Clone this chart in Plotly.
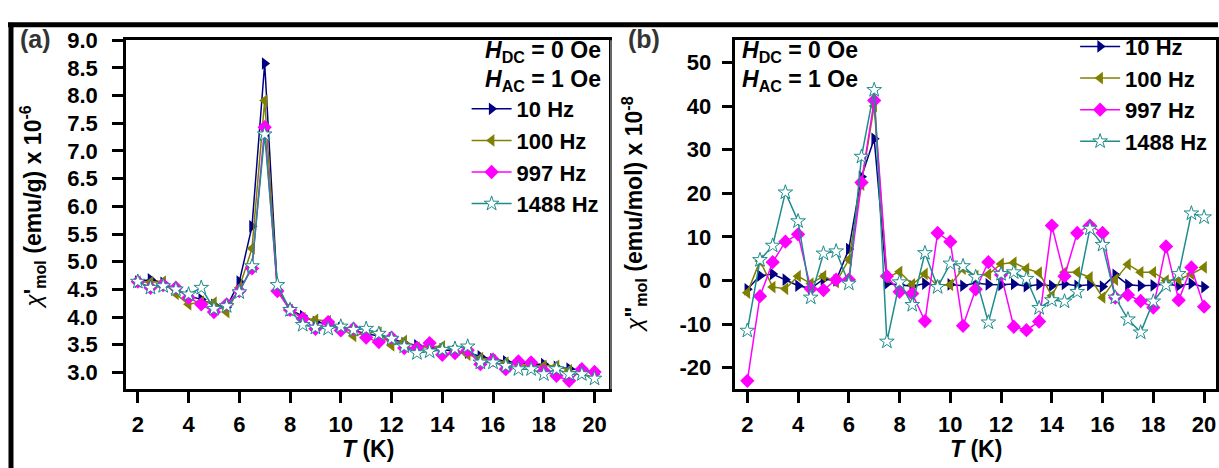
import plotly.graph_objects as go

W, H = 1219, 468

T = [2, 2.5, 3, 3.5, 4, 4.5, 5, 5.5, 6, 6.5, 7, 7.5, 8, 8.5, 9, 9.5, 10, 10.5, 11, 11.5,
     12, 12.5, 13, 13.5, 14, 14.5, 15, 15.5, 16, 16.5, 17, 17.5, 18, 18.5, 19, 19.5, 20]

freq_labels = ["10 Hz", "100 Hz", "997 Hz", "1488 Hz"]

# panel (a): chi' (x 1e-6 emu/g)
chi1_10 = [4.64, 4.68, 4.62, 4.50, 4.38, 4.32, 4.22, 4.18, 4.64, 5.64, 8.58, 4.50, 4.13, 4.02, 3.91, 3.88, 3.80, 3.76, 3.70, 3.66,
           3.62, 3.53, 3.49, 3.46, 3.42, 3.38, 3.36, 3.29, 3.24, 3.20, 3.17, 3.15, 3.15, 3.10, 3.07, 3.04, 2.97]
chi1_100 = [4.64, 4.63, 4.64, 4.42, 4.23, 4.28, 4.26, 4.09, 4.53, 5.24, 7.91, 4.48, 4.13, 3.98, 3.95, 3.93, 3.80, 3.66, 3.72, 3.72,
            3.49, 3.57, 3.45, 3.47, 3.47, 3.38, 3.32, 3.26, 3.22, 3.18, 3.14, 3.12, 3.12, 3.12, 3.04, 2.98, 2.91]
chi1_997 = [4.64, 4.53, 4.58, 4.53, 4.35, 4.23, 4.09, 4.23, 4.47, 4.88, 7.43, 4.47, 4.13, 3.97, 3.79, 3.91, 3.76, 3.79, 3.63, 3.55,
            3.63, 3.44, 3.44, 3.53, 3.32, 3.35, 3.40, 3.15, 3.23, 3.06, 3.20, 3.18, 3.03, 2.94, 2.85, 3.06, 3.01]
chi1_1488 = [4.64, 4.53, 4.56, 4.50, 4.41, 4.53, 4.15, 4.20, 4.45, 4.92, 7.30, 4.58, 4.13, 3.86, 3.81, 3.79, 3.83, 3.77, 3.79, 3.70,
             3.61, 3.47, 3.35, 3.38, 3.41, 3.43, 3.47, 3.18, 3.18, 3.12, 3.06, 3.06, 2.97, 3.06, 2.97, 2.97, 2.89]

# panel (b): chi'' (x 1e-8 emu/mol)
chi2_10 = [-2.0, 1.1, 1.5, 0.2, -1.2, -1.8, 0.3, 0.0, 7.2, 23.8, 32.5, -0.7, -1.0, -1.3, -0.7, -1.2, -0.9, -1.2, -0.6, -0.9,
           -1.0, -0.8, -1.3, -0.9, -1.2, -0.8, -1.2, -1.0, -1.4, 1.3, -1.0, -1.2, -1.1, -0.8, -1.2, -0.7, -1.5]
chi2_100 = [-2.8, 4.5, -1.5, -1.9, 1.0, -0.7, 1.0, -0.4, 4.8, 22.0, 40.0, 0.7, 2.0, -0.9, 1.5, -1.2, -1.0, 2.7, 1.0, 1.4,
            3.8, 4.1, 2.7, 1.8, -3.5, 1.9, 1.9, 0.7, -3.9, 0.2, 3.7, 1.9, 1.9, 0.0, 0.2, 1.5, 3.0]
chi2_997 = [-23.0, -3.6, 4.2, 8.9, 10.6, -1.9, -2.2, 0.2, 0.2, 22.5, 41.3, 1.0, -2.6, -3.0, -9.3, 10.9, 8.9, -10.4, -2.0, 4.2,
            1.3, -10.6, -11.4, -9.4, 12.6, 1.0, 10.9, 12.6, 10.9, -3.9, -3.3, -4.7, -6.2, 7.8, -4.5, 3.0, -6.0]
chi2_1488 = [-11.5, 4.7, 8.0, 20.2, 13.6, -3.9, 6.2, 6.7, -0.7, 28.4, 43.7, -14.0, -0.4, -5.6, 6.3, -1.5, 3.9, 3.3, 0.8, -9.6,
             1.5, 1.9, 0.4, -6.3, -4.5, -4.8, -2.6, 11.9, 8.2, -3.9, -8.9, -11.9, -4.8, -1.1, 1.5, 15.4, 14.5]

x_ticks = [2, 4, 6, 8, 10, 12, 14, 16, 18, 20]
ya_ticks = [3.0, 3.5, 4.0, 4.5, 5.0, 5.5, 6.0, 6.5, 7.0, 7.5, 8.0, 8.5, 9.0]
yb_ticks = [-20, -10, 0, 10, 20, 30, 40, 50]

colors = ["#000080", "#808000", "#FF00FF", "#1E8C8C"]
symbols = ["triangle-right", "triangle-left", "diamond", "star"]
msizes = [11, 11, 11, 11]

FONT = "Liberation Sans, Arial, sans-serif"


def px(x):
    return x / W


def py(y):
    return 1 - y / H


fig = go.Figure()

series_a = [chi1_10, chi1_100, chi1_997, chi1_1488]
series_b = [chi2_10, chi2_100, chi2_997, chi2_1488]

for panel, series, xa, ya, lg in [("a", series_a, "x", "y", "legend"), ("b", series_b, "x2", "y2", "legend2")]:
    for i, (lab, ys) in enumerate(zip(freq_labels, series)):
        is_star = symbols[i] == "star"
        fig.add_trace(go.Scatter(
            x=T, y=ys, name=lab, mode="lines+markers", xaxis=xa, yaxis=ya, legend=lg,
            line=dict(color=colors[i], width=1.5),
            marker=dict(symbol=symbols[i], size=msizes[i],
                        color="white" if is_star else colors[i],
                        line=dict(color=colors[i], width=1 if is_star else 0)),
        ))

tickfont = dict(family=FONT, size=22, color="black", weight="bold")
axis_common = dict(showline=True, linecolor="black", linewidth=2.5, mirror=True,
                   ticks="outside", ticklen=11, tickwidth=2.5, tickcolor="black",
                   showgrid=False, zeroline=False, tickfont=tickfont)

legfont = dict(family=FONT, size=22, color="black", weight="bold")

fig.update_layout(
    width=W, height=H,
    margin=dict(l=0, r=0, t=0, b=0),
    paper_bgcolor="white", plot_bgcolor="white",
    font=dict(family=FONT, color="black"),
    xaxis=dict(domain=[px(126), px(609)], range=[1.53, 20.55], tickmode="array", tickvals=x_ticks,
               ticktext=[str(v) for v in x_ticks], anchor="y", ticklabelstandoff=3, **axis_common),
    yaxis=dict(domain=[py(387), py(29)], range=[2.7, 9.0], tickmode="array", tickvals=ya_ticks,
               ticktext=[f"{v:.1f}" for v in ya_ticks], anchor="x", ticklabelstandoff=10, **axis_common),
    xaxis2=dict(domain=[px(736), px(1217)], range=[1.53, 20.47], tickmode="array", tickvals=x_ticks,
                ticktext=[str(v) for v in x_ticks], anchor="y2", ticklabelstandoff=3, **axis_common),
    yaxis2=dict(domain=[py(387), py(29)], range=[-24.9, 55.1], tickmode="array", tickvals=yb_ticks,
                ticktext=[str(v) for v in yb_ticks], anchor="x2", ticklabelstandoff=6, **axis_common),
    legend=dict(x=px(467), y=py(78), xanchor="left", yanchor="top", bgcolor="rgba(0,0,0,0)",
                font=legfont, tracegroupgap=0, itemwidth=40),
    legend2=dict(x=px(1076), y=py(14), xanchor="left", yanchor="top", bgcolor="rgba(0,0,0,0)",
                 font=legfont, tracegroupgap=0, itemwidth=40),
    showlegend=True,
)

ann_font = dict(family=FONT, size=23, color="black")
anns = [
    dict(x=px(603), y=py(41), xanchor="right", yanchor="middle",
         text="<b><i>H</i><sub>DC</sub> = 0 Oe</b>"),
    dict(x=px(603), y=py(70), xanchor="right", yanchor="middle",
         text="<b><i>H</i><sub>AC</sub> = 1 Oe</b>"),
    dict(x=px(741), y=py(41), xanchor="left", yanchor="middle",
         text="<b><i>H</i><sub>DC</sub> = 0 Oe</b>"),
    dict(x=px(741), y=py(70), xanchor="left", yanchor="middle",
         text="<b><i>H</i><sub>AC</sub> = 1 Oe</b>"),
    dict(x=px(368), y=py(449), xanchor="center", yanchor="middle",
         text="<b><i>T</i> (K)</b>"),
    dict(x=px(977), y=py(449), xanchor="center", yanchor="middle",
         text="<b><i>T</i> (K)</b>"),
    dict(x=px(32), y=py(200), xanchor="center", yanchor="middle", textangle=-90,
         text="<i>χ</i><b>'<sub>mol</sub> (emu/g) x 10<sup>-6</sup></b>"),
    dict(x=px(634), y=py(207), xanchor="center", yanchor="middle", textangle=-90,
         text="<i>χ</i><b>\"<sub>mol</sub> (emu/mol) x 10<sup>-8</sup></b>"),
    dict(x=px(36), y=py(28), xanchor="center", yanchor="middle",
         text="<b>(a)</b>", font=dict(family=FONT, size=25, color="#333333")),
    dict(x=px(645), y=py(28), xanchor="center", yanchor="middle",
         text="<b>(b)</b>", font=dict(family=FONT, size=25, color="#333333")),
]
for a in anns:
    a.setdefault("font", ann_font)
    a.update(xref="paper", yref="paper", showarrow=False)
fig.update_layout(annotations=anns)

fig.update_layout(shapes=[
    dict(type="line", xref="paper", yref="paper", x0=px(8), x1=1, y0=py(13), y1=py(13),
         line=dict(color="black", width=5)),
    dict(type="line", xref="paper", yref="paper", x0=px(11), x1=px(11), y0=py(11), y1=0,
         line=dict(color="black", width=5)),
    dict(type="line", xref="paper", yref="paper", x0=px(611.5), x1=px(611.5), y0=py(29), y1=py(387),
         line=dict(color="#d0d0d0", width=1)),
])

fig.write_html("out.html")
